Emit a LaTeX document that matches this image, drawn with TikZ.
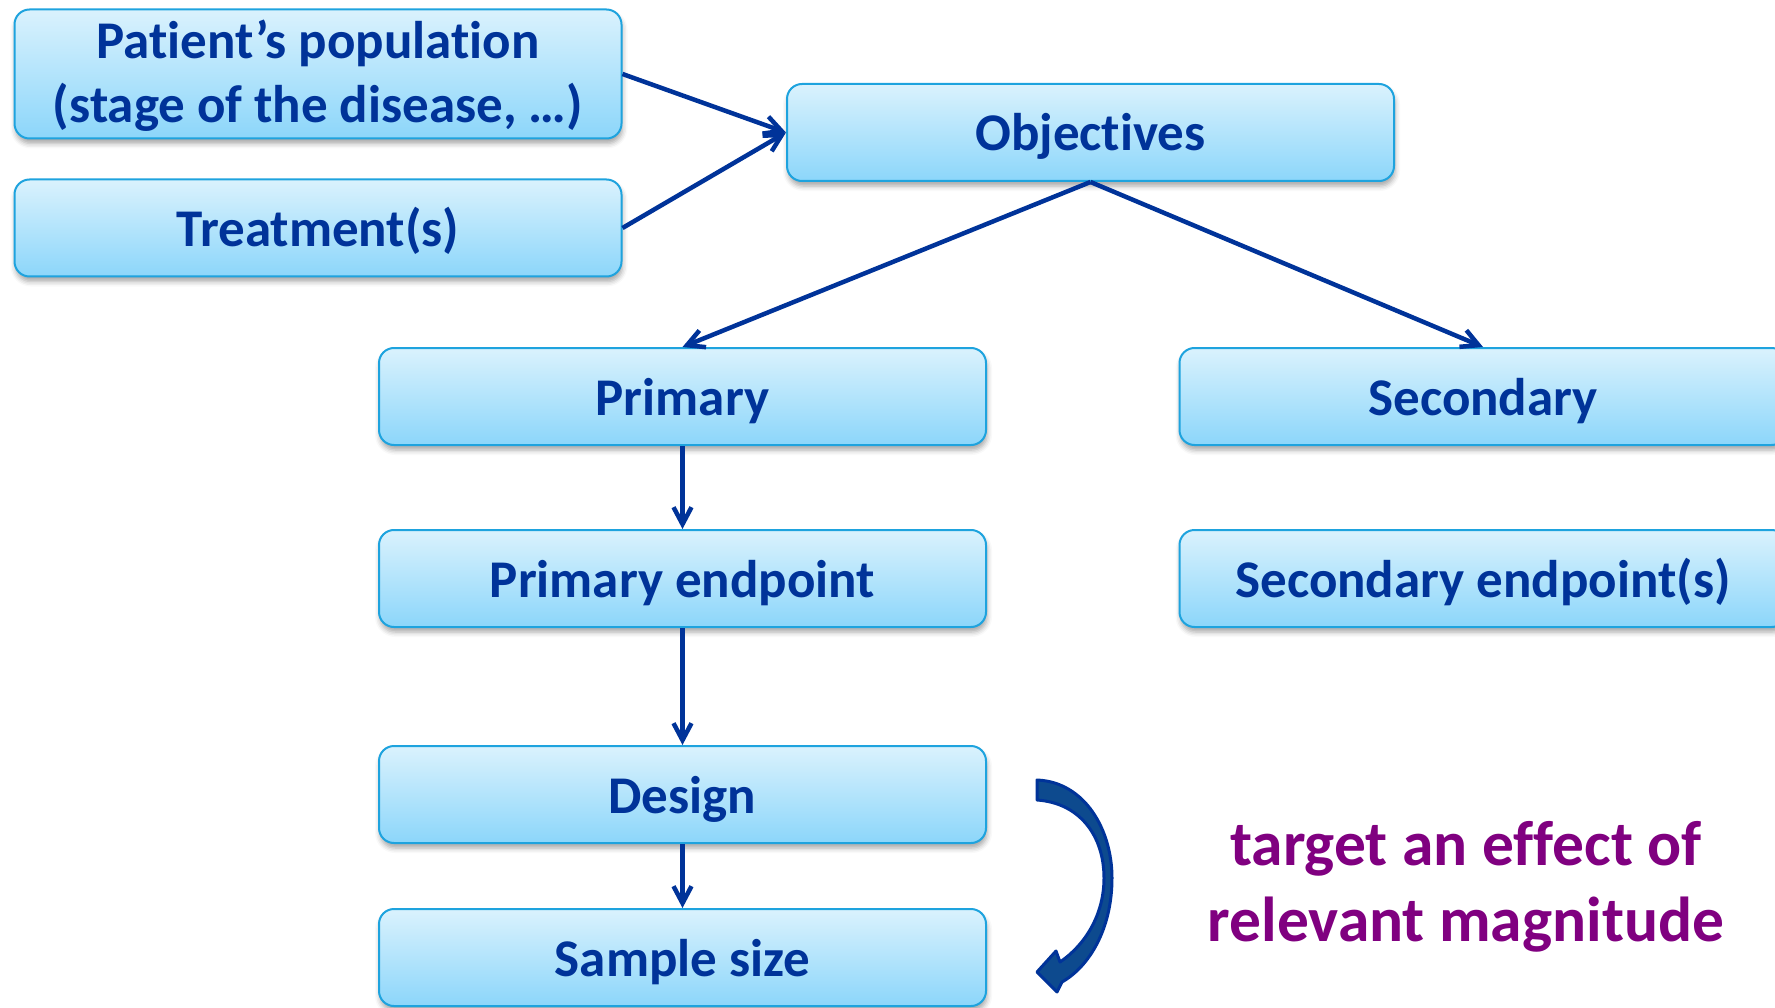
\documentclass[tikz,border=0pt]{standalone}
\usepackage{fontspec}
\setmainfont{Carlito}[Ligatures={NoCommon,NoContextual}]
\usetikzlibrary{arrows.meta,shadows.blur}
\definecolor{txtblue}{HTML}{003399}
\definecolor{boxtop}{HTML}{DAF2FD}
\definecolor{boxbot}{HTML}{8CD6FA}
\definecolor{boxline}{HTML}{1EA3DE}
\definecolor{curvefill}{HTML}{0D4A8E}
\definecolor{note}{HTML}{800080}
\begin{document}
\begin{tikzpicture}[x=1pt,y=-1pt,
  box/.style={draw=boxline, line width=2pt, rounded corners=15pt,
    top color=boxtop, bottom color=boxbot,
    minimum width=607pt, minimum height=97pt, inner sep=0pt,
    align=center, text=txtblue,
    font=\bfseries\fontsize{53}{64.5}\selectfont,
    blur shadow={shadow xshift=1pt, shadow yshift=-5pt, shadow blur radius=5pt, shadow opacity=35}},
  oneline/.style={text height=42pt, text depth=5pt},
  link/.style={draw=txtblue, line width=4.5pt,
    -{Straight Barb[length=17pt,width=18pt,line width=4.5pt]}}]
\useasboundingbox (0,0) rectangle (1775,1008);

% boxes
\node[box, minimum height=126pt] (pat) at (318,74)
  {\raisebox{-3.5pt}[\height][\depth]{\begin{tabular}{@{}c@{}}Patient’s population\\(stage of the disease, …)\end{tabular}}};
\node[box, oneline] (trt) at (318,228) {Treatment(s)};
\node[box, oneline] (obj) at (1090.5,132.5) {Objectives};
\node[box, oneline] (pri) at (682.5,396.5) {Primary};
\node[box, oneline] (sec) at (1483,396.5) {Secondary};
\node[box, oneline] (pep) at (682.5,578.5) {Primary endpoint};
\node[box, oneline] (sep) at (1483,578.5) {Secondary endpoint(s)};
\node[box, oneline] (des) at (682.5,794.5) {Design};
\node[box, oneline] (sam) at (682.5,957.5) {Sample size};

% connectors
\draw[link] (pat.east) -- (obj.west);
\draw[link] (trt.east) -- (obj.west);
\draw[link] (obj.south) -- (pri.north);
\draw[link] (obj.south) -- (sec.north);
\draw[link] (pri.south) -- (pep.north);
\draw[link] (pep.south) -- (des.north);
\draw[link] (des.south) -- (sam.north);

% curved block arrow from design to sample size
\filldraw[fill=curvefill, draw=txtblue, line width=3pt, line join=round]
  (1037,780) .. controls (1085,782) and (1112,830) .. (1112,878)
  .. controls (1112,928) and (1090,966) .. (1062,982)
  -- (1057,992) -- (1037,972) -- (1056,951) -- (1060,962)
  .. controls (1085,945) and (1104,915) .. (1104,878)
  .. controls (1104,836) and (1080,803) .. (1037,800) -- cycle;

% note
\node[text=note, align=center, font=\bfseries\fontsize{63.5}{76.5}\selectfont] (note) at (1466,887)
  {target an effect of\\relevant magnitude};
\end{tikzpicture}
\end{document}
